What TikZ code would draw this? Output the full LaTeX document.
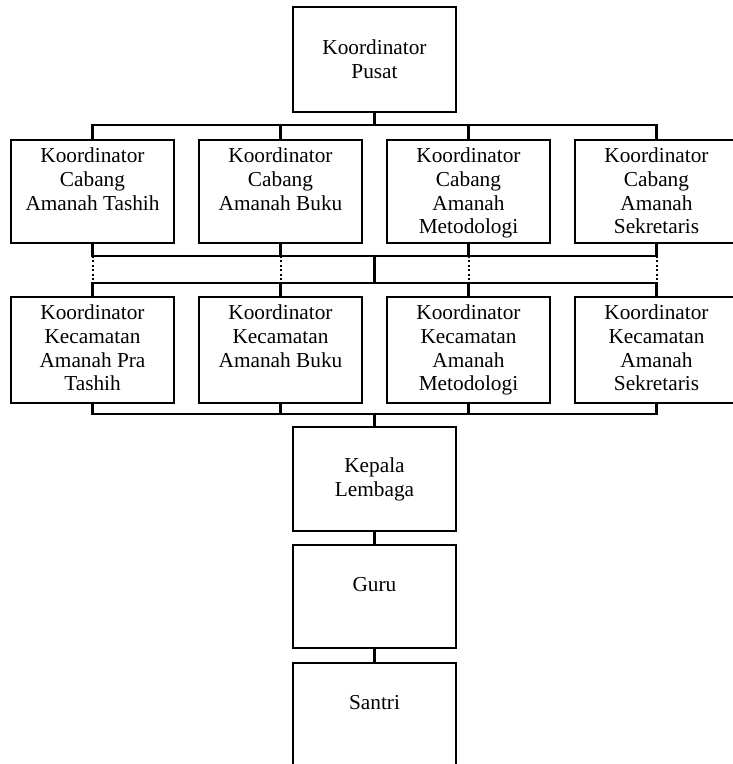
\documentclass[tikz,border=0pt]{standalone}
\usepackage{fontspec}
\setmainfont{Liberation Serif}
\usetikzlibrary{positioning}
\begin{document}
\begin{tikzpicture}[x=1pt,y=-1pt,
  box/.style={draw,line width=1.6pt,minimum width=163pt,inner sep=0pt,outer sep=0pt},
  rowbox/.style={box,minimum height=103pt},
  lbl/.style={inner sep=0pt,outer sep=0pt,align=center,font=\fontsize{21.3}{23.7}\selectfont},
  conn/.style={line width=2.6pt,line join=miter},
  dots/.style={line width=2pt,dash pattern=on 2pt off 2.4pt}]
\useasboundingbox (0,0) rectangle (732,764);
% boxes
\node[box,minimum height=105pt] (top) at (374.5,59.5) {};
\node[rowbox] (c1) at (92.5,191.5) {};
\node[rowbox] (c2) at (280.5,191.5) {};
\node[rowbox] (c3) at (468.5,191.5) {};
\node[rowbox] (c4) at (656.5,191.5) {};
\node[box,minimum height=106pt] (k1) at (92.5,350) {};
\node[box,minimum height=106pt] (k2) at (280.5,350) {};
\node[box,minimum height=106pt] (k3) at (468.5,350) {};
\node[box,minimum height=106pt] (k4) at (656.5,350) {};
\node[box,minimum height=104pt] (kep) at (374.5,479) {};
\node[box,minimum height=103pt] (guru) at (374.5,596.5) {};
\node[box,minimum height=104pt] (san) at (374.5,715) {};
% labels
\node[lbl,below=33pt of top.north] (ttop) {Koordinator\\Pusat};
\node[lbl,below=8pt of c1.north] (tc1) {Koordinator\\Cabang\\Amanah Tashih};
\node[lbl,below=8pt of c2.north] (tc2) {Koordinator\\Cabang\\Amanah Buku};
\node[lbl,below=8pt of c3.north] (tc3) {Koordinator\\Cabang\\Amanah\\Metodologi};
\node[lbl,below=8pt of c4.north] (tc4) {Koordinator\\Cabang\\Amanah\\Sekretaris};
\node[lbl,below=8pt of k1.north] (tk1) {Koordinator\\Kecamatan\\Amanah Pra\\Tashih};
\node[lbl,below=8pt of k2.north] (tk2) {Koordinator\\Kecamatan\\Amanah Buku};
\node[lbl,below=8pt of k3.north] (tk3) {Koordinator\\Kecamatan\\Amanah\\Metodologi};
\node[lbl,below=8pt of k4.north] (tk4) {Koordinator\\Kecamatan\\Amanah\\Sekretaris};
\node[lbl,below=31pt of kep.north] (tkep) {Kepala\\Lembaga};
\node[lbl,below=32pt of guru.north] (tguru) {Guru};
\node[lbl,below=32pt of san.north] (tsan) {Santri};
% bus coordinates
\coordinate (b1) at (0,125);
\coordinate (b2) at (0,256);
\coordinate (b3) at (0,283);
\coordinate (b4) at (0,414);
% top to cabang
\draw[conn] (top.south) -- (top.south |- b1);
\draw[conn] (c1.north) -- (c1.north |- b1) -- (c4.north |- b1) -- (c4.north);
\draw[conn] (c2.north |- b1) -- (c2.north);
\draw[conn] (c3.north |- b1) -- (c3.north);
% cabang to bus2
\draw[conn] (c1.south) -- (c1.south |- b2) -- (c4.south |- b2) -- (c4.south);
\draw[conn] (c2.south) -- (c2.south |- b2);
\draw[conn] (c3.south) -- (c3.south |- b2);
% middle link
\draw[conn] (top.south |- b2) -- (top.south |- b3);
\foreach \n in {c1,c2,c3,c4}{
  \draw[dots] (\n.south |- b2) -- (\n.south |- b3);
}
% bus3 to kecamatan
\draw[conn] (k1.north) -- (k1.north |- b3) -- (k4.north |- b3) -- (k4.north);
\draw[conn] (k2.north |- b3) -- (k2.north);
\draw[conn] (k3.north |- b3) -- (k3.north);
% kecamatan to kepala
\draw[conn] (k1.south) -- (k1.south |- b4) -- (k4.south |- b4) -- (k4.south);
\draw[conn] (k2.south) -- (k2.south |- b4);
\draw[conn] (k3.south) -- (k3.south |- b4);
\draw[conn] (kep.north |- b4) -- (kep.north);
% chain
\draw[conn] (kep.south) -- (guru.north);
\draw[conn] (guru.south) -- (san.north);
\end{tikzpicture}
\end{document}
